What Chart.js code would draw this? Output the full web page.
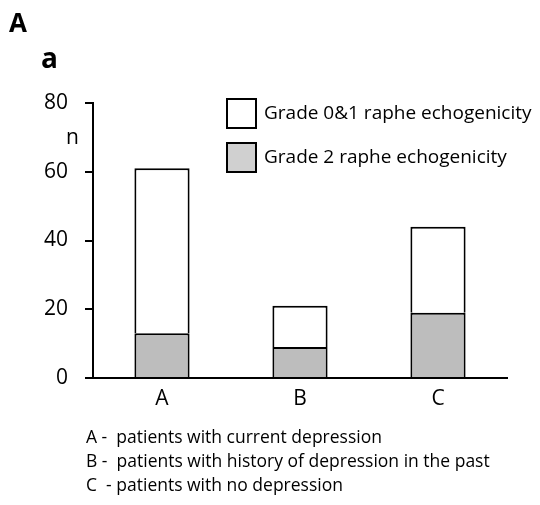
<!DOCTYPE html>
<html>
<head>
<meta charset="utf-8">
<script src="https://cdn.jsdelivr.net/npm/chart.js@4"></script>
<style>
  body { margin: 0; background: #fff; font-family: 'Open Sans', sans-serif; }
  #wrap { position: relative; width: 540px; height: 505px; }
  #chart { position: absolute; left: 0; top: 0; }
  .lbl { position: absolute; color: #000; white-space: nowrap; }
  .panel { font-weight: bold; font-size: 26px; }
  .note { font-size: 17.5px; left: 86px; }
</style>
</head>
<body>
<div id="wrap">
  <canvas id="chart" width="540" height="505"></canvas>
  <div class="lbl panel" style="left:9px; top:4px;">A</div>
  <div class="lbl panel" style="left:41px; top:38px; font-size:28px;">a</div>
  <div class="lbl" style="left:66px; top:122px; font-size:21px;">n</div>
  <div class="lbl note" style="top:424px;">A -&nbsp; patients with current depression</div>
  <div class="lbl note" style="top:448px;">B -&nbsp; patients with history of depression in the past</div>
  <div class="lbl note" style="top:472px;">C&nbsp; - patients with no depression</div>
</div>
<script>
document.addEventListener('DOMContentLoaded', () => {
    // --- data ---
    const groups = ['A', 'B', 'C'];
    const grade2 = [13, 9, 19];
    const grade01 = [48, 12, 25];
    const yTicks = [0, 20, 40, 60, 80];

    const legendItems = [
        { text: 'Grade 0&1 raphe echogenicity', fill: '#ffffff' },
        { text: 'Grade 2 raphe echogenicity', fill: '#d0d0d0' }
    ];

    // --- legend box drawn inside the plot ---
    const legendPlugin = {
        id: 'boxLegend',
        afterDraw(chart) {
            const ctx = chart.ctx;
            ctx.save();
            ctx.font = '19px "Open Sans"';
            ctx.textBaseline = 'middle';
            legendItems.forEach((item, i) => {
                const y = 99 + i * 44;
                ctx.fillStyle = item.fill;
                ctx.fillRect(227, y, 29, 29);
                ctx.lineWidth = 2;
                ctx.strokeStyle = '#000';
                ctx.strokeRect(227, y, 29, 29);
                ctx.fillStyle = '#000';
                ctx.fillText(item.text, 264, y + 15);
            });
            ctx.restore();
        }
    };

    const ctx = document.getElementById('chart').getContext('2d');
    new Chart(ctx, {
        type: 'bar',
        data: {
            labels: groups,
            datasets: [
                {
                    label: 'Grade 2 raphe echogenicity',
                    data: grade2,
                    backgroundColor: '#bdbdbd',
                    borderColor: '#000',
                    borderWidth: 2,
                    borderSkipped: 'start'
                },
                {
                    label: 'Grade 0&1 raphe echogenicity',
                    data: grade01,
                    backgroundColor: '#ffffff',
                    borderColor: '#000',
                    borderWidth: 2,
                    borderSkipped: 'start'
                }
            ]
        },
        options: {
            responsive: false,
            animation: false,
            layout: { padding: { left: 0, top: 103, right: 33, bottom: 0 } },
            datasets: { bar: { categoryPercentage: 1.0, barPercentage: 0.4 } },
            plugins: {
                legend: { display: false },
                tooltip: { enabled: false }
            },
            scales: {
                x: {
                    stacked: true,
                    afterFit: (scale) => { scale.height = 127; },
                    grid: { display: true, drawOnChartArea: false, drawTicks: false },
                    border: { display: true, color: '#000', width: 2 },
                    ticks: { color: '#000', padding: 8, font: { family: 'Open Sans', size: 21 } }
                },
                y: {
                    stacked: true,
                    min: 0,
                    max: 80,
                    afterFit: (scale) => { scale.width = 93; },
                    afterBuildTicks: (scale) => { scale.ticks = yTicks.map(v => ({ value: v })); },
                    grid: { display: true, drawOnChartArea: false, drawTicks: true, tickLength: 8, color: '#000', lineWidth: 2 },
                    border: { display: true, color: '#000', width: 2 },
                    ticks: { color: '#000', padding: 17, font: { family: 'Open Sans', size: 21 } }
                }
            }
        },
        plugins: [legendPlugin]
    });
});
</script>
</body>
</html>
